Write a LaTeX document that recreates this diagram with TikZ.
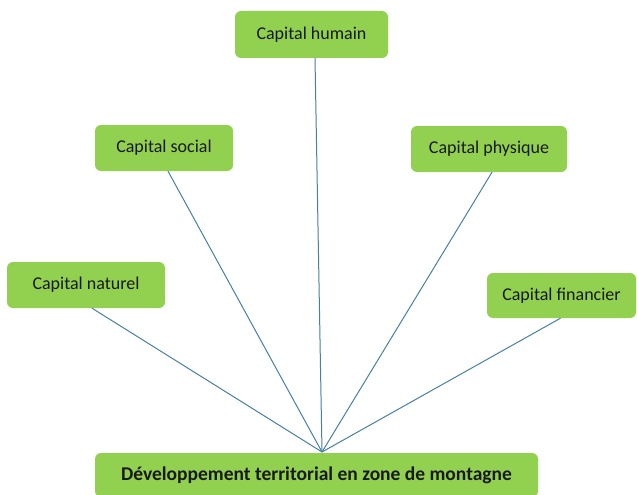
\documentclass[tikz,border=0pt]{standalone}
\usepackage{fontspec}
\setmainfont{Carlito}
\definecolor{boxgreen}{RGB}{146,208,80}
\definecolor{linkblue}{RGB}{70,128,162}
\definecolor{textdark}{RGB}{25,25,25}

\begin{document}
\begin{tikzpicture}[x=1pt, y=-1pt,
    capbox/.style={rectangle, rounded corners=6pt, fill=boxgreen, text=textdark,
      inner sep=0pt, minimum height=46pt, font=\fontsize{18}{21}\selectfont},
    link/.style={draw=linkblue, line width=1pt}]
  \useasboundingbox (0,0) rectangle (637,495);

  % Nodes
  \node[capbox, minimum width=153pt, minimum height=47pt] (humain) at (311.5,34.5) {Capital humain};
  \node[capbox, minimum width=138pt] (social) at (164,148) {Capital social};
  \node[capbox, minimum width=156pt] (physique) at (489,149) {Capital physique};
  \node[capbox, minimum width=158pt] (naturel) at (86,285) {Capital naturel};
  \node[capbox, minimum width=149pt, minimum height=45pt] (financier) at (561.5,295.5) {Capital financier};
  \node[capbox, minimum width=443pt, minimum height=44pt, font=\fontsize{19.5}{22}\selectfont\bfseries] (montagne) at (316.5,475) {Développement territorial en zone de montagne};
  \coordinate (meet) at (322,452);

  % Edges
  \draw[link] ([xshift=3.5pt]humain.south) -- (meet);
  \draw[link] ([xshift=4pt]social.south) -- (meet);
  \draw[link] ([xshift=3pt]physique.south) -- (meet);
  \draw[link] ([xshift=6pt]naturel.south) -- (meet);
  \draw[link] ([xshift=-1pt]financier.south) -- (meet);
\end{tikzpicture}
\end{document}
